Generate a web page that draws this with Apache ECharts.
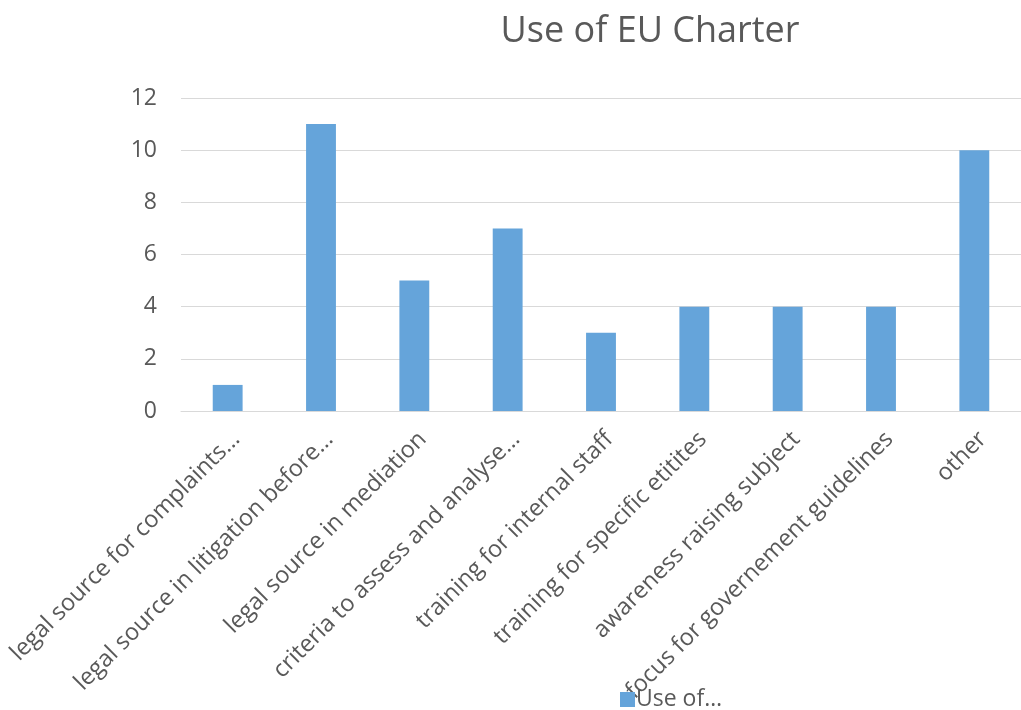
<!DOCTYPE html>
<html>
<head>
<meta charset="utf-8">
<script src="https://cdn.jsdelivr.net/npm/echarts@6/dist/echarts.min.js"></script>
<style>
  html, body { margin: 0; padding: 0; background: #fff; }
  #chart { width: 1021px; height: 710px; }
</style>
</head>
<body>
<div id="chart"></div>
<script>
// Ways the EU Charter is used, with the number of responses for each
const categories = [
  'legal source for complaints…',
  'legal source in litigation before…',
  'legal source in mediation',
  'criteria to assess and analyse…',
  'training for internal staff',
  'training for specific etitites',
  'awareness raising subject',
  'focus for governement guidelines',
  'other'
];
const useCounts = [1, 11, 5, 7, 3, 4, 4, 4, 10];
const seriesName = 'Use of…';
const yTicks = { min: 0, max: 12, step: 2 };

const textColor = '#595959';
const fontFamily = '"Open Sans", "Noto Sans", sans-serif';

const chart = echarts.init(document.getElementById('chart'), null, { renderer: 'canvas' });
chart.setOption({
  backgroundColor: '#ffffff',
  animation: false,
  textStyle: { fontFamily: fontFamily },
  title: {
    text: 'Use of EU Charter',
    left: 645,
    top: 9,
    textAlign: 'center',
    textStyle: { fontSize: 36, fontWeight: 'normal', color: textColor, fontFamily: fontFamily }
  },
  legend: {
    data: [seriesName],
    left: 615,
    top: 683,
    itemWidth: 15,
    itemHeight: 15,
    itemGap: 4,
    icon: 'rect',
    textStyle: { fontSize: 23, color: textColor, padding: [0, 0, 0, -4] }
  },
  grid: {
    left: 181, right: 0, top: 98, bottom: 299,
    containLabel: false,
    outerBoundsMode: 'none'
  },
  xAxis: {
    type: 'category',
    data: categories,
    axisLine: { lineStyle: { color: '#d9d9d9', width: 1 } },
    axisTick: { show: false },
    axisLabel: {
      rotate: 45,
      interval: 0,
      margin: 16,
      fontSize: 23.5,
      verticalAlign: 'top',
      color: textColor
    }
  },
  yAxis: {
    type: 'value',
    min: yTicks.min,
    max: yTicks.max,
    interval: yTicks.step,
    axisLine: { show: false },
    axisTick: { show: false },
    splitLine: { lineStyle: { color: '#d9d9d9', width: 1 } },
    axisLabel: { fontSize: 23, color: textColor, margin: 24 }
  },
  series: [{
    name: seriesName,
    type: 'bar',
    data: useCounts,
    barWidth: '32%',
    itemStyle: { color: '#65a4da' }
  }]
});
</script>
</body>
</html>
